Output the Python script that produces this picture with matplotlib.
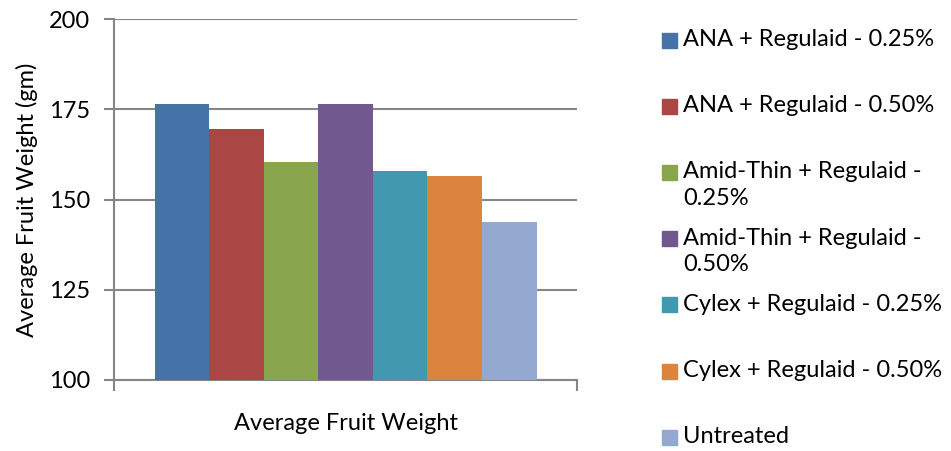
import matplotlib
matplotlib.use("Agg")
import matplotlib.pyplot as plt
from matplotlib.patches import Rectangle
import numpy as np

plt.rcParams['font.family'] = ['Lato', 'DejaVu Sans']

# data
treatments = ['ANA + Regulaid - 0.25%', 'ANA + Regulaid - 0.50%',
              'Amid-Thin + Regulaid -\n0.25%', 'Amid-Thin + Regulaid -\n0.50%',
              'Cylex + Regulaid - 0.25%', 'Cylex + Regulaid - 0.50%',
              'Untreated']
weights = [176.4, 169.5, 160.5, 176.4, 158.0, 156.4, 143.9]
colors = ['#4572A7', '#AA4643', '#89A54E', '#71588F', '#4198AF', '#DB843D', '#93A9CF']
category = 'Average Fruit Weight'
yticks = [100, 125, 150, 175, 200]

fs = 17
grey = '#868686'

fig = plt.figure(figsize=(9.51, 4.51), dpi=100)
ax = fig.add_axes([114/951, 1 - 380/451, (577 - 114)/951, (380 - 19)/451])

n = len(weights)
group = 382/463
w = group/n
xs = -group/2 + w/2 + w*np.arange(n)
ax.bar(xs, np.array(weights) - 100, bottom=100, width=w, color=colors, zorder=3)

ax.set_xlim(-0.5, 0.5)
ax.set_ylim(100, 200)
ax.set_yticks(yticks)
ax.yaxis.grid(True, color=grey, linewidth=1.5, zorder=0)
ax.tick_params(axis='y', direction='out', length=7, width=1.5, color=grey,
               labelsize=fs, pad=10)
ax.set_xticks([0])
ax.set_xticklabels([category], fontsize=fs)
ax.set_xticks([-0.5, 0.5], minor=True)
ax.tick_params(axis='x', which='major', length=0, pad=24)
ax.tick_params(axis='x', which='minor', direction='out', length=8, width=1.5, color=grey)
for s in ['top', 'right']:
    ax.spines[s].set_visible(False)
for s in ['left', 'bottom']:
    ax.spines[s].set_color(grey)
    ax.spines[s].set_linewidth(1.5)
ax.set_ylabel('Average Fruit Weight (gm)', fontsize=fs, labelpad=8)

# legend, Excel style: one slot per entry, text top-aligned
for i, (lab, c) in enumerate(zip(treatments, colors)):
    yc = 40 + 66.2*i
    fig.patches.append(Rectangle((662/951, 1 - (yc + 7.5)/451), 15/951, 15/451,
                                 transform=fig.transFigure, color=c))
    fig.text(683/951, 1 - (yc - 11)/451, lab, fontsize=fs, va='top', ha='left',
             linespacing=1.32)

fig.savefig('out.png', dpi=100)
